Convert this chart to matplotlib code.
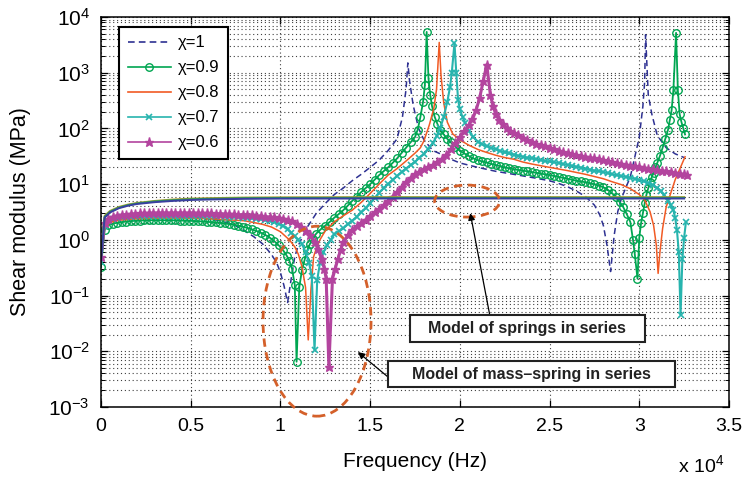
import numpy as np
import matplotlib.pyplot as plt
from matplotlib.patches import Ellipse, Rectangle
from matplotlib.ticker import FixedLocator, FuncFormatter, LogLocator, NullFormatter

plt.rcParams['font.family'] = ['Liberation Sans', 'DejaVu Sans']
plt.rcParams['mathtext.fontset'] = 'custom'
plt.rcParams['mathtext.rm'] = 'Liberation Sans'
plt.rcParams['mathtext.it'] = 'Liberation Sans:italic'
plt.rcParams['mathtext.bf'] = 'Liberation Sans:bold'

# frequency in units of 10^4 Hz, shear modulus in MPa
chi_1 = [(0, 0.4), (0.02, 1.8), (0.05, 2.2), (0.1, 2.4), (0.2, 2.6), (0.3, 2.65), (0.4, 2.65),
         (0.5, 2.55), (0.6, 2.4), (0.65, 2.25), (0.7, 2.05), (0.75, 1.8), (0.8, 1.45), (0.85, 1.15),
         (0.9, 0.85), (0.95, 0.55), (0.98, 0.38), (1.0, 0.26), (1.02, 0.15), (1.04, 0.075),
         (1.06, 0.2), (1.08, 0.5), (1.1, 0.8), (1.15, 1.7), (1.2, 3.0), (1.25, 4.5), (1.3, 6.5),
         (1.35, 8.5), (1.4, 11.5), (1.45, 15), (1.5, 20), (1.55, 27), (1.6, 40), (1.65, 65),
         (1.68, 160), (1.7, 500), (1.71, 1500), (1.72, 700), (1.74, 260), (1.77, 100), (1.8, 62),
         (1.85, 40), (1.9, 34), (1.95, 28), (2.0, 24), (2.1, 20), (2.2, 17), (2.3, 15), (2.4, 13.2),
         (2.5, 11.5), (2.55, 10.3), (2.6, 9), (2.65, 7.5), (2.7, 6), (2.75, 4.2), (2.78, 2.8),
         (2.8, 1.8), (2.82, 0.8), (2.84, 0.27), (2.86, 1.2), (2.88, 3.2), (2.9, 5.5), (2.95, 13.5),
         (3.0, 70), (3.02, 250), (3.03, 700), (3.035, 4800), (3.05, 400), (3.07, 180), (3.1, 75),
         (3.15, 45), (3.2, 35), (3.25, 30)]

chi_09 = [(0, 0.33), (0.02, 1.5), (0.04, 1.85), (0.065, 1.95), (0.09, 2.03), (0.115, 2.08),
          (0.14, 2.13), (0.165, 2.17), (0.19, 2.2), (0.215, 2.22), (0.24, 2.24), (0.265, 2.25),
          (0.29, 2.25), (0.315, 2.25), (0.34, 2.25), (0.365, 2.25), (0.39, 2.25), (0.415, 2.24),
          (0.44, 2.22), (0.465, 2.21), (0.49, 2.2), (0.515, 2.18), (0.54, 2.16), (0.565, 2.14),
          (0.59, 2.11), (0.615, 2.08), (0.64, 2.06), (0.665, 2.02), (0.69, 1.97), (0.715, 1.92),
          (0.74, 1.87), (0.765, 1.8), (0.79, 1.73), (0.815, 1.64), (0.84, 1.54), (0.865, 1.45),
          (0.89, 1.35), (0.915, 1.23), (0.94, 1.1), (0.965, 0.95), (0.99, 0.8), (1.015, 0.65),
          (1.035, 0.52), (1.05, 0.42), (1.065, 0.3), (1.08, 0.155), (1.09, 0.0065), (1.105, 0.14),
          (1.12, 0.29), (1.135, 0.44), (1.15, 0.65), (1.165, 0.85), (1.18, 1.05), (1.2, 1.3),
          (1.225, 1.55), (1.25, 1.8), (1.275, 2.1), (1.3, 2.5), (1.325, 2.9), (1.35, 3.4),
          (1.375, 4.1), (1.4, 5.0), (1.425, 6.0), (1.45, 7.2), (1.475, 8.5), (1.5, 10),
          (1.525, 12), (1.55, 14.5), (1.575, 17), (1.6, 20), (1.625, 24), (1.65, 29), (1.675, 36),
          (1.7, 45), (1.725, 56), (1.75, 70), (1.765, 95), (1.78, 160), (1.795, 300), (1.805, 600),
          (1.815, 5400), (1.825, 800), (1.835, 400), (1.845, 250), (1.86, 160), (1.875, 120),
          (1.89, 95), (1.91, 78), (1.93, 65), (1.95, 56), (1.975, 47), (2.0, 40), (2.025, 35.5),
          (2.05, 32), (2.075, 29), (2.1, 27), (2.125, 25.5), (2.15, 24.5), (2.175, 23), (2.2, 22),
          (2.225, 21), (2.25, 20), (2.275, 19.2), (2.3, 18.5), (2.325, 18), (2.35, 17.5),
          (2.375, 17), (2.4, 16.5), (2.425, 16), (2.45, 15.5), (2.475, 15), (2.5, 14.5),
          (2.525, 14), (2.55, 13.5), (2.575, 13), (2.6, 12.5), (2.625, 12), (2.65, 11.5),
          (2.675, 11.2), (2.7, 10.8), (2.725, 10.4), (2.75, 10), (2.775, 9.4), (2.8, 8.8),
          (2.825, 7.9), (2.85, 6.8), (2.87, 5.8), (2.89, 4.8), (2.91, 3.9), (2.93, 2.9),
          (2.95, 2.1), (2.965, 1.0), (2.975, 0.55), (2.99, 0.2), (3.0, 1.1), (3.01, 2.0),
          (3.02, 3.0), (3.03, 4.5), (3.04, 6.5), (3.05, 8.5), (3.06, 11), (3.07, 13.5), (3.08, 16),
          (3.09, 20), (3.1, 24), (3.115, 32), (3.13, 45), (3.145, 65), (3.16, 94), (3.17, 140),
          (3.18, 210), (3.19, 490), (3.205, 5200), (3.215, 480), (3.225, 180), (3.235, 130),
          (3.245, 100), (3.255, 78)]

chi_08 = [(0, 0.38), (0.02, 1.6), (0.05, 2.05), (0.1, 2.25), (0.2, 2.4), (0.3, 2.45), (0.4, 2.45),
          (0.5, 2.45), (0.6, 2.4), (0.7, 2.3), (0.8, 2.2), (0.85, 2.05), (0.9, 1.9), (0.95, 1.7),
          (1.0, 1.4), (1.05, 1.0), (1.08, 0.75), (1.1, 0.55), (1.12, 0.33), (1.14, 0.14),
          (1.155, 0.016), (1.17, 0.13), (1.185, 0.5), (1.2, 0.7), (1.22, 1.0), (1.25, 1.45),
          (1.3, 2.1), (1.35, 2.7), (1.4, 3.4), (1.45, 4.7), (1.5, 6.8), (1.55, 10), (1.6, 14.5),
          (1.65, 19), (1.7, 26), (1.75, 36), (1.78, 45), (1.8, 60), (1.83, 116), (1.855, 230),
          (1.87, 500), (1.885, 3500), (1.895, 900), (1.91, 290), (1.93, 130), (1.96, 80), (2.0, 62),
          (2.05, 50), (2.1, 42), (2.15, 37), (2.2, 33), (2.25, 30), (2.3, 28), (2.35, 25), (2.4, 23),
          (2.5, 20), (2.6, 17.5), (2.7, 15), (2.8, 12.5), (2.85, 11), (2.9, 9.8), (2.95, 8.3),
          (3.0, 6.5), (3.03, 5.2), (3.06, 3.2), (3.08, 1.8), (3.095, 0.8), (3.105, 0.25),
          (3.115, 0.6), (3.13, 1.6), (3.15, 3.9), (3.2, 12), (3.255, 31)]

chi_07 = [(0, 0.4), (0.02, 1.8), (0.04, 2.2), (0.065, 2.38), (0.09, 2.47), (0.115, 2.53),
          (0.14, 2.58), (0.165, 2.62), (0.19, 2.65), (0.215, 2.67), (0.24, 2.69), (0.265, 2.7),
          (0.29, 2.7), (0.315, 2.7), (0.34, 2.7), (0.365, 2.7), (0.39, 2.7), (0.415, 2.7),
          (0.44, 2.7), (0.465, 2.7), (0.49, 2.7), (0.515, 2.7), (0.54, 2.7), (0.565, 2.69),
          (0.59, 2.67), (0.615, 2.66), (0.64, 2.65), (0.665, 2.63), (0.69, 2.61), (0.715, 2.58),
          (0.74, 2.56), (0.765, 2.53), (0.79, 2.5), (0.815, 2.47), (0.84, 2.42), (0.865, 2.37),
          (0.89, 2.32), (0.915, 2.25), (0.94, 2.18), (0.965, 2.08), (0.99, 1.95), (1.015, 1.8),
          (1.04, 1.55), (1.06, 1.35), (1.08, 1.15), (1.1, 1.0), (1.12, 0.85), (1.14, 0.6),
          (1.16, 0.38), (1.175, 0.22), (1.19, 0.0105), (1.205, 0.19), (1.22, 0.38), (1.24, 0.6),
          (1.26, 0.8), (1.28, 1.0), (1.3, 1.25), (1.325, 1.42), (1.35, 1.6), (1.375, 1.9),
          (1.4, 2.2), (1.425, 2.6), (1.45, 3.1), (1.475, 3.7), (1.5, 4.5), (1.525, 5.6), (1.55, 7),
          (1.575, 8.5), (1.6, 10), (1.625, 12), (1.65, 14), (1.675, 16.5), (1.7, 19), (1.725, 22),
          (1.75, 25), (1.775, 30), (1.8, 35), (1.825, 43), (1.85, 55), (1.87, 72), (1.89, 100),
          (1.91, 160), (1.93, 300), (1.945, 550), (1.955, 1000), (1.97, 3400), (1.98, 1000),
          (1.99, 330), (2.0, 220), (2.015, 160), (2.03, 125), (2.05, 90), (2.075, 70), (2.1, 58),
          (2.125, 52), (2.15, 48), (2.175, 45), (2.2, 42), (2.225, 39.5), (2.25, 37),
          (2.275, 35.5), (2.3, 34), (2.325, 32.5), (2.35, 31), (2.375, 30), (2.4, 29),
          (2.425, 28), (2.45, 27), (2.475, 26.2), (2.5, 25.5), (2.525, 24.7), (2.55, 24),
          (2.575, 23), (2.6, 22), (2.625, 21.2), (2.65, 20.5), (2.675, 19.7), (2.7, 19),
          (2.725, 18.2), (2.75, 17.5), (2.775, 17), (2.8, 16.5), (2.825, 15.7), (2.85, 15),
          (2.875, 14.5), (2.9, 14), (2.925, 13.5), (2.95, 13), (2.975, 12.5), (3.0, 12),
          (3.025, 11.2), (3.05, 10.5), (3.075, 9.6), (3.1, 8.6), (3.12, 7.5), (3.14, 6.3),
          (3.16, 5), (3.175, 4.2), (3.19, 3.45), (3.2, 2.5), (3.21, 1.5), (3.22, 0.6),
          (3.23, 0.045), (3.24, 0.45), (3.25, 1.1), (3.26, 2.1)]

chi_06 = [(0, 0.5), (0.02, 2.0), (0.04, 2.4), (0.065, 2.6), (0.09, 2.72), (0.115, 2.8),
          (0.14, 2.85), (0.165, 2.9), (0.19, 2.95), (0.215, 2.98), (0.24, 3.0), (0.265, 3.02),
          (0.29, 3.04), (0.315, 3.05), (0.34, 3.05), (0.365, 3.05), (0.39, 3.05), (0.415, 3.05),
          (0.44, 3.05), (0.465, 3.05), (0.49, 3.05), (0.515, 3.04), (0.54, 3.02), (0.565, 3.0),
          (0.59, 3.0), (0.615, 2.98), (0.64, 2.96), (0.665, 2.94), (0.69, 2.91), (0.715, 2.88),
          (0.74, 2.86), (0.765, 2.84), (0.79, 2.81), (0.815, 2.79), (0.84, 2.76), (0.865, 2.72),
          (0.89, 2.67), (0.915, 2.62), (0.94, 2.57), (0.965, 2.52), (0.99, 2.47), (1.015, 2.4),
          (1.04, 2.3), (1.065, 2.15), (1.09, 1.95), (1.115, 1.72), (1.14, 1.45), (1.165, 1.2),
          (1.19, 0.92), (1.21, 0.68), (1.23, 0.45), (1.245, 0.3), (1.255, 0.2), (1.27, 0.0052),
          (1.29, 0.2), (1.305, 0.3), (1.32, 0.45), (1.335, 0.65), (1.35, 0.9), (1.375, 1.2),
          (1.4, 1.5), (1.425, 1.75), (1.45, 2.0), (1.475, 2.3), (1.5, 2.7), (1.525, 3.1),
          (1.55, 3.6), (1.575, 4.2), (1.6, 5.0), (1.625, 6.0), (1.65, 7.2), (1.675, 9), (1.7, 11),
          (1.725, 13), (1.75, 15), (1.775, 16.8), (1.8, 18.5), (1.825, 20), (1.85, 22),
          (1.875, 24.5), (1.9, 28), (1.925, 34), (1.95, 42), (1.975, 54), (2.0, 70), (2.025, 90),
          (2.05, 115), (2.07, 145), (2.09, 210), (2.11, 350), (2.13, 700), (2.15, 1400),
          (2.17, 400), (2.185, 250), (2.2, 180), (2.22, 140), (2.24, 118), (2.26, 100), (2.28, 90),
          (2.3, 83), (2.325, 75), (2.35, 68), (2.375, 62), (2.4, 56), (2.425, 53), (2.45, 50),
          (2.475, 47.5), (2.5, 45), (2.525, 42.5), (2.55, 40), (2.575, 38), (2.6, 36),
          (2.625, 34.5), (2.65, 33), (2.675, 32), (2.7, 31), (2.725, 30), (2.75, 29), (2.775, 28),
          (2.8, 27), (2.825, 26), (2.85, 25), (2.875, 24), (2.9, 23), (2.925, 22.2), (2.95, 21.5),
          (2.975, 21), (3.0, 20.5), (3.025, 19.7), (3.05, 19), (3.075, 18.5), (3.1, 18),
          (3.125, 17.5), (3.15, 17), (3.175, 16.5), (3.2, 16), (3.225, 15.5), (3.25, 15),
          (3.265, 14.7)]

# springs-in-series model, nearly flat
spring_f = [0, 0.02, 0.05, 0.1, 0.15, 0.2, 0.3, 0.4, 0.5, 0.6, 0.8, 1.0, 1.5, 2.0, 2.5, 3.0, 3.25]
spring_a = [0.5, 2.7, 3.3, 3.9, 4.3, 4.6, 5.0, 5.3, 5.5, 5.6, 5.75, 5.8, 5.85, 5.85, 5.85, 5.85, 5.85]
spring_b = [0.45, 2.6, 3.2, 3.8, 4.2, 4.5, 4.9, 5.15, 5.35, 5.45, 5.6, 5.65, 5.68, 5.68, 5.68, 5.68, 5.68]
spring_c = [0.4, 2.5, 3.1, 3.7, 4.1, 4.4, 4.75, 5.0, 5.2, 5.3, 5.45, 5.5, 5.52, 5.52, 5.52, 5.52, 5.52]

x_ticks = [0, 0.5, 1, 1.5, 2, 2.5, 3, 3.5]

fig = plt.figure(figsize=(7.45, 4.79), dpi=100)
ax = fig.add_axes([101/745, 72/479, 628/745, 390/479])


def xy(pairs):
    f, g = zip(*pairs)
    return list(f), list(g)


f, g = xy(chi_1)
ax.plot(f, g, color='#2e3192', lw=1.1, ls=(0, (4, 2.5)), label='χ=1')
f, g = xy(chi_09)
ax.plot(f, g, color='#00a651', lw=1.3, marker='o', ms=5.4, mfc='none', mew=1.0, label='χ=0.9')
f, g = xy(chi_08)
ax.plot(f, g, color='#f15a24', lw=1.1, label='χ=0.8')
f, g = xy(chi_07)
ax.plot(f, g, color='#27b4ae', lw=1.5, marker='x', ms=4.2, mew=1.2, label='χ=0.7')
f, g = xy(chi_06)
ax.plot(f, g, color='#b3449e', lw=2.2, marker='*', ms=6.5, label='χ=0.6')

ax.plot(spring_f, spring_a, color='#b0a030', lw=1.4)
ax.plot(spring_f, spring_b, color='#2a9a5a', lw=1.4)
ax.plot(spring_f, spring_c, color='#3a3fa0', lw=1.4)

ax.set_yscale('log')
ax.set_xlim(0, 3.5)
ax.set_ylim(1e-3, 1e4)
ax.xaxis.set_major_locator(FixedLocator(x_ticks))
ax.xaxis.set_major_formatter(FuncFormatter(lambda v, p: '%g' % v))
ax.yaxis.set_major_locator(LogLocator(base=10, numticks=20))
ax.yaxis.set_minor_locator(LogLocator(base=10, subs=np.arange(2, 10), numticks=20))
ax.yaxis.set_minor_formatter(NullFormatter())

ax.tick_params(which='both', direction='in', top=True, right=True)
ax.tick_params(axis='x', labelsize=14)
ax.tick_params(axis='y', labelsize=15)
ax.tick_params(which='major', length=5, width=0.9, pad=8)
ax.tick_params(which='minor', length=3, width=0.7)
for s in ax.spines.values():
    s.set_linewidth(1.1)

dots = (0, (1, 2.5))
ax.grid(True, which='major', axis='both', color='0.25', lw=0.8, ls=dots)
ax.grid(True, which='minor', axis='y', color='0.25', lw=0.8, ls=dots)

ax.set_xlabel('Frequency (Hz)', fontsize=15)
ax.set_ylabel('Shear modulus (MPa)', fontsize=15.5)
ax.xaxis.set_label_coords(0.5, -0.115)
ax.yaxis.set_label_coords(-0.112, 0.5)
ax.text(0.955, -0.15, r'x 10$^4$', transform=ax.transAxes, fontsize=14, ha='center', va='center')

leg = ax.legend(loc='lower left', bbox_to_anchor=(0.016, 0.615), fontsize=12, handlelength=2.6,
                labelspacing=0.6, borderpad=0.5, handletextpad=0.4, fancybox=False, framealpha=1)
leg.get_frame().set_edgecolor('black')
leg.get_frame().set_linewidth(1.5)
for h in leg.get_lines():
    h.set_linewidth(1.2)

# annotations
orange = '#d4602a'
ax.add_patch(Ellipse((0.344, 0.22), 0.172, 0.487, transform=ax.transAxes, fill=False,
                     ec=orange, lw=2, ls=(0, (3, 2)), clip_on=False, zorder=6))
ax.add_patch(Ellipse((0.583, 0.528), 0.1035, 0.082, transform=ax.transAxes, fill=False,
                     ec=orange, lw=2, ls=(0, (3, 2)), zorder=6))

ax.annotate('', xy=(0.588, 0.497), xytext=(0.619, 0.236), xycoords='axes fraction',
            arrowprops=dict(arrowstyle='-|>', color='k', lw=0.9, mutation_scale=10,
                            shrinkA=0, shrinkB=0), zorder=7)
ax.annotate('', xy=(0.409, 0.141), xytext=(0.457, 0.077), xycoords='axes fraction',
            arrowprops=dict(arrowstyle='-|>', color='k', lw=0.9, mutation_scale=10,
                            shrinkA=0, shrinkB=0), zorder=7)

ax.add_patch(Rectangle((0.492, 0.167), 0.374, 0.069, transform=ax.transAxes, fc='white',
                       ec='#222222', lw=1.5, zorder=8))
ax.text(0.679, 0.2013, 'Model of springs in series', transform=ax.transAxes, fontsize=11.5,
        fontweight='bold', ha='center', va='center', color='#222222', zorder=9)
ax.add_patch(Rectangle((0.457, 0.051), 0.457, 0.067, transform=ax.transAxes, fc='white',
                       ec='#222222', lw=1.5, zorder=8))
ax.text(0.6855, 0.0846, 'Model of mass–spring in series', transform=ax.transAxes, fontsize=11.5,
        fontweight='bold', ha='center', va='center', color='#222222', zorder=9)

fig.savefig('out.png', dpi=100)
